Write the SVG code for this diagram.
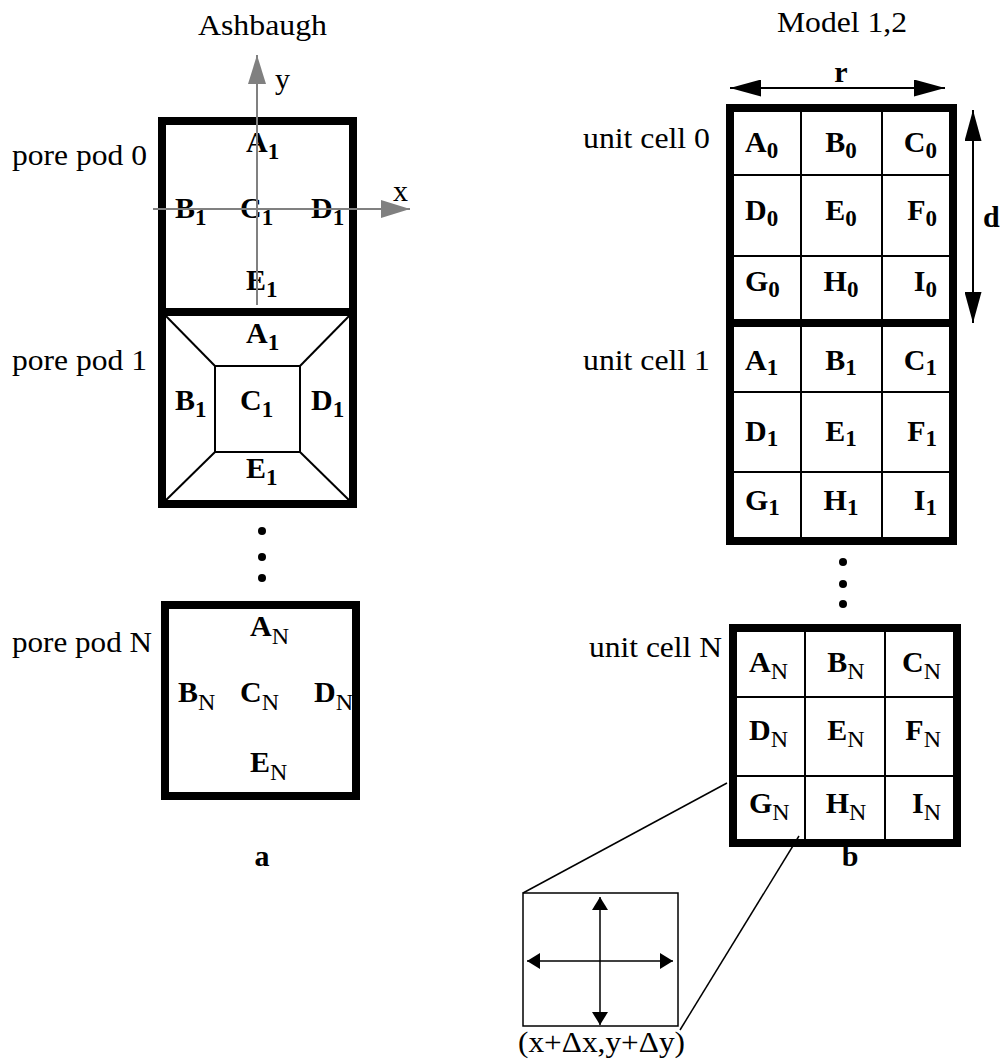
<svg xmlns="http://www.w3.org/2000/svg" width="1002" height="1064" viewBox="0 0 1002 1064">
<style>
.t{font-family:"Liberation Serif","Times New Roman",serif;font-size:30px;fill:#000}
.b{font-family:"Liberation Serif","Times New Roman",serif;font-size:30px;font-weight:bold;fill:#000}
.s{font-size:23px}
.sn{font-size:24px;font-weight:normal}
.thick{fill:none;stroke:#000;stroke-width:8}
.thin{stroke:#000;stroke-width:2;fill:none}
.hair{stroke:#000;stroke-width:1.5;fill:none}
.axis{stroke:#808080;stroke-width:2}
.dot{fill:#000}
</style>
<defs>
<marker id="ga" viewBox="0 0 29 18" refX="29" refY="9" markerWidth="29" markerHeight="18" markerUnits="userSpaceOnUse" orient="auto-start-reverse"><path d="M0,0 L29,9 L0,18 z" fill="#808080"/></marker>
<marker id="ba" viewBox="0 0 31 17" refX="31" refY="8.5" markerWidth="31" markerHeight="17" markerUnits="userSpaceOnUse" orient="auto-start-reverse"><path d="M0,0 L31,8.5 L0,17 z" fill="#000"/></marker>
<marker id="sa" viewBox="0 0 13 16" refX="13" refY="8" markerWidth="13" markerHeight="16" markerUnits="userSpaceOnUse" orient="auto-start-reverse"><path d="M0,0 L13,8 L0,16 z" fill="#000"/></marker>
</defs>
<rect width="1002" height="1064" fill="#fff"/>

<!-- titles -->
<text class="t" x="198" y="35" textLength="129" lengthAdjust="spacingAndGlyphs">Ashbaugh</text>
<text class="t" x="777" y="32" textLength="130" lengthAdjust="spacingAndGlyphs">Model 1,2</text>

<!-- left labels -->
<text class="t" x="12" y="165" textLength="135" lengthAdjust="spacingAndGlyphs">pore pod 0</text>
<text class="t" x="12" y="370" textLength="135" lengthAdjust="spacingAndGlyphs">pore pod 1</text>
<text class="t" x="12" y="652" textLength="140" lengthAdjust="spacingAndGlyphs">pore pod N</text>

<g id="pod0">
<rect class="thick" x="162" y="121" width="191" height="191"/>
<text class="b" x="246" y="152">A<tspan class="s" dy="7">1</tspan></text>
<text class="b" x="175" y="218">B<tspan class="s" dy="7">1</tspan></text>
<text class="b" x="240" y="218">C<tspan class="s" dy="7">1</tspan></text>
<text class="b" x="311" y="218">D<tspan class="s" dy="7">1</tspan></text>
<text class="b" x="246" y="290">E<tspan class="s" dy="7">1</tspan></text>
</g>

<g id="pod1">
<rect class="thick" x="162" y="312" width="191" height="192"/>
<rect class="thin" x="215" y="366" width="85" height="86"/>
<line class="thin" x1="162" y1="312" x2="215" y2="366"/>
<line class="thin" x1="353" y1="312" x2="300" y2="366"/>
<line class="thin" x1="162" y1="504" x2="215" y2="452"/>
<line class="thin" x1="353" y1="504" x2="300" y2="452"/>
<text class="b" x="246" y="343">A<tspan class="s" dy="7">1</tspan></text>
<text class="b" x="175" y="410">B<tspan class="s" dy="7">1</tspan></text>
<text class="b" x="240" y="410">C<tspan class="s" dy="7">1</tspan></text>
<text class="b" x="311" y="410">D<tspan class="s" dy="7">1</tspan></text>
<text class="b" x="246" y="478">E<tspan class="s" dy="7">1</tspan></text>
</g>

<g id="dotsL">
<circle class="dot" cx="262" cy="531" r="4"/>
<circle class="dot" cx="262" cy="557" r="4"/>
<circle class="dot" cx="262" cy="578" r="4"/>
</g>

<g id="podN">
<rect class="thick" x="165" y="605" width="191" height="191"/>
<text class="b" x="250" y="636">A<tspan class="sn" dy="8">N</tspan></text>
<text class="b" x="178" y="702">B<tspan class="sn" dy="8">N</tspan></text>
<text class="b" x="240" y="702">C<tspan class="sn" dy="8">N</tspan></text>
<text class="b" x="314" y="702">D<tspan class="sn" dy="8">N</tspan></text>
<text class="b" x="250" y="772">E<tspan class="sn" dy="8">N</tspan></text>
</g>

<text class="b" x="262" y="866" text-anchor="middle">a</text>
<text class="b" x="850" y="866" text-anchor="middle">b</text>

<!-- right labels -->
<text class="t" x="583" y="148" textLength="127" lengthAdjust="spacingAndGlyphs">unit cell 0</text>
<text class="t" x="583" y="370" textLength="127" lengthAdjust="spacingAndGlyphs">unit cell 1</text>
<text class="t" x="589" y="657" textLength="133" lengthAdjust="spacingAndGlyphs">unit cell N</text>
<text class="b" x="841" y="82" text-anchor="middle">r</text>
<text class="b" x="983" y="227">d</text>

<g id="cell0">
<rect class="thick" x="730" y="108" width="223" height="215"/>
<line class="thin" x1="801" y1="108" x2="801" y2="323"/>
<line class="thin" x1="882" y1="108" x2="882" y2="323"/>
<line class="thin" x1="730" y1="175" x2="953" y2="175"/>
<line class="thin" x1="730" y1="256" x2="953" y2="256"/>
<text class="b" x="745" y="152">A<tspan class="s" dy="6">0</tspan></text>
<text class="b" x="841" y="152" text-anchor="middle">B<tspan class="s" dy="6">0</tspan></text>
<text class="b" x="937" y="152" text-anchor="end">C<tspan class="s" dy="6">0</tspan></text>
<text class="b" x="745" y="220">D<tspan class="s" dy="6">0</tspan></text>
<text class="b" x="841" y="220" text-anchor="middle">E<tspan class="s" dy="6">0</tspan></text>
<text class="b" x="937" y="220" text-anchor="end">F<tspan class="s" dy="6">0</tspan></text>
<text class="b" x="745" y="291">G<tspan class="s" dy="6">0</tspan></text>
<text class="b" x="841" y="291" text-anchor="middle">H<tspan class="s" dy="6">0</tspan></text>
<text class="b" x="937" y="291" text-anchor="end">I<tspan class="s" dy="6">0</tspan></text>
</g>

<g id="cell1">
<rect class="thick" x="730" y="323" width="223" height="218"/>
<line class="thin" x1="801" y1="323" x2="801" y2="541"/>
<line class="thin" x1="882" y1="323" x2="882" y2="541"/>
<line class="thin" x1="730" y1="392" x2="953" y2="392"/>
<line class="thin" x1="730" y1="472" x2="953" y2="472"/>
<text class="b" x="745" y="370">A<tspan class="s" dy="5">1</tspan></text>
<text class="b" x="841" y="370" text-anchor="middle">B<tspan class="s" dy="5">1</tspan></text>
<text class="b" x="937" y="370" text-anchor="end">C<tspan class="s" dy="5">1</tspan></text>
<text class="b" x="745" y="441">D<tspan class="s" dy="5">1</tspan></text>
<text class="b" x="841" y="441" text-anchor="middle">E<tspan class="s" dy="5">1</tspan></text>
<text class="b" x="937" y="441" text-anchor="end">F<tspan class="s" dy="5">1</tspan></text>
<text class="b" x="745" y="510">G<tspan class="s" dy="5">1</tspan></text>
<text class="b" x="841" y="510" text-anchor="middle">H<tspan class="s" dy="5">1</tspan></text>
<text class="b" x="937" y="510" text-anchor="end">I<tspan class="s" dy="5">1</tspan></text>
</g>

<g id="dotsR">
<circle class="dot" cx="843" cy="562" r="4"/>
<circle class="dot" cx="843" cy="584" r="4"/>
<circle class="dot" cx="843" cy="604" r="4"/>
</g>

<g id="cellN">
<rect class="thick" x="733" y="628" width="224" height="215"/>
<line class="thin" x1="805" y1="628" x2="805" y2="843"/>
<line class="thin" x1="885" y1="628" x2="885" y2="843"/>
<line class="thin" x1="733" y1="697" x2="957" y2="697"/>
<line class="thin" x1="733" y1="776" x2="957" y2="776"/>
<text class="b" x="749" y="672">A<tspan class="sn" dy="7">N</tspan></text>
<text class="b" x="846" y="672" text-anchor="middle">B<tspan class="sn" dy="7">N</tspan></text>
<text class="b" x="941" y="672" text-anchor="end">C<tspan class="sn" dy="7">N</tspan></text>
<text class="b" x="749" y="740">D<tspan class="sn" dy="7">N</tspan></text>
<text class="b" x="846" y="740" text-anchor="middle">E<tspan class="sn" dy="7">N</tspan></text>
<text class="b" x="941" y="740" text-anchor="end">F<tspan class="sn" dy="7">N</tspan></text>
<text class="b" x="749" y="813">G<tspan class="sn" dy="7">N</tspan></text>
<text class="b" x="846" y="813" text-anchor="middle">H<tspan class="sn" dy="7">N</tspan></text>
<text class="b" x="941" y="813" text-anchor="end">I<tspan class="sn" dy="7">N</tspan></text>
</g>

<g id="inset">
<rect class="hair" x="523" y="893" width="155" height="133"/>
<line class="hair" x1="600" y1="897" x2="600" y2="1025" marker-start="url(#sa)" marker-end="url(#sa)"/>
<line class="hair" x1="527" y1="961" x2="673" y2="961" marker-start="url(#sa)" marker-end="url(#sa)"/>
<text class="t" x="518" y="1052" textLength="167" lengthAdjust="spacingAndGlyphs">(x+Δx,y+Δy)</text>
</g>

<g id="connectors">
<line class="axis" x1="257" y1="305" x2="257" y2="55" marker-end="url(#ga)"/>
<line class="axis" x1="153" y1="209" x2="410" y2="209" marker-end="url(#ga)"/>
<text class="t" x="275" y="89">y</text>
<text class="t" x="393" y="201">x</text>
<line class="thin" x1="730" y1="88" x2="945" y2="88" marker-start="url(#ba)" marker-end="url(#ba)"/>
<line class="thin" x1="973" y1="110" x2="973" y2="323" marker-start="url(#ba)" marker-end="url(#ba)"/>
<line class="hair" x1="727" y1="783" x2="523" y2="893"/>
<line class="hair" x1="799" y1="836" x2="680" y2="1030"/>
</g>
</svg>
